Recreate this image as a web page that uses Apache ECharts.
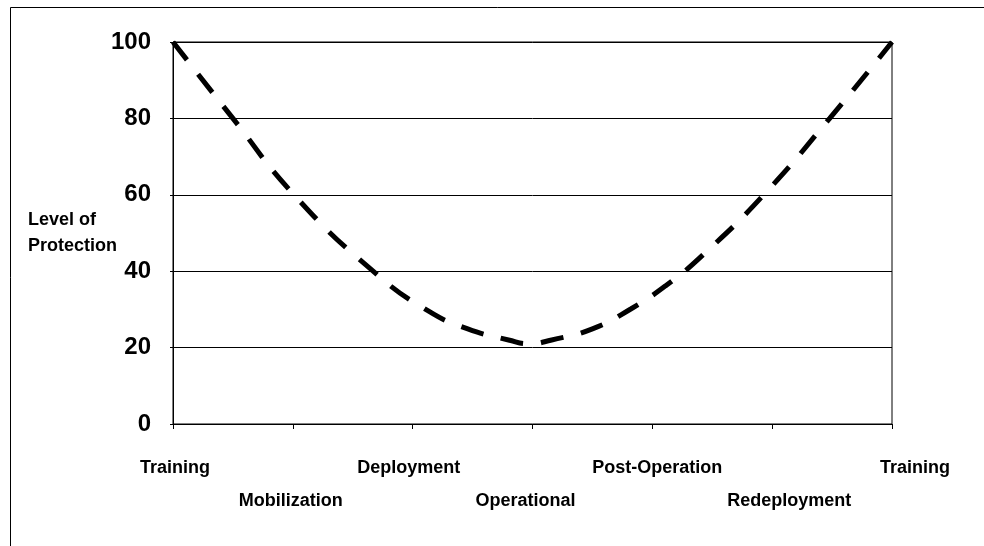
<!DOCTYPE html>
<html>
<head>
<meta charset="utf-8">
<script src="https://cdn.jsdelivr.net/npm/echarts@6/dist/echarts.min.js"></script>
<style>html,body{margin:0;padding:0;background:#fff;}#c{width:984px;height:546px;}</style>
</head>
<body>
<div id="c"></div>
<script>
const categories = ['Training','Mobilization','Deployment','Operational','Post-Operation','Redeployment','Training'];
const labelShift = [2, -2, -4, -7, 5, 17, 23];
const curveX = [0, 0.5, 1.01, 1.67, 2.13, 2.46, 2.80, 2.97, 3.16, 3.50, 3.82, 4.12, 4.42, 4.93, 5.48, 6];
const curveY = [100, 80, 60, 40, 29.6, 24.9, 22, 21, 22, 24.9, 30.1, 36.4, 44.2, 60, 80, 100];
const yName = 'Level of\nProtection';

const font = "'Liberation Sans', Arial, sans-serif";
const rich = {};
categories.forEach((c, i) => {
  const s = labelShift[i];
  const top = (i % 2 === 1) ? 33 : 0;
  rich['l' + i] = {
    fontFamily: font, fontWeight: 'bold', fontSize: 18, color: '#000',
    padding: [top, s < 0 ? -2 * s : 0, 0, s > 0 ? 2 * s : 0]
  };
});

const chart = echarts.init(document.getElementById('c'));
chart.setOption({
  animation: false,
  backgroundColor: '#fff',
  graphic: [{
    type: 'rect', shape: { x: 10.5, y: 7.5, width: 1100, height: 700 },
    style: { fill: 'none', stroke: '#000', lineWidth: 1 }, silent: true
  }],
  grid: { left: 173, right: 92, top: 42, bottom: 122, show: true, borderColor: '#000', borderWidth: 1, backgroundColor: 'transparent' },
  xAxis: {
    type: 'value', min: 0, max: 6, interval: 1,
    axisLine: { show: true, lineStyle: { color: '#000', width: 1 } },
    axisTick: { show: true, length: 5, lineStyle: { color: '#000' } },
    splitLine: { show: false },
    axisLabel: {
      margin: 35, showMinLabel: true, showMaxLabel: true,
      formatter: v => { const i = Math.round(v); return '{l' + i + '|' + categories[i] + '}'; },
      rich: rich
    }
  },
  yAxis: {
    type: 'value', min: 0, max: 100, interval: 20,
    name: yName, nameLocation: 'middle', nameRotate: 0, nameGap: 145, nameMoveOverlap: false,
    nameTextStyle: { fontFamily: font, fontWeight: 'bold', fontSize: 18, color: '#000', align: 'left', lineHeight: 26, padding: [6, 0, 0, 0] },
    axisLine: { show: true, lineStyle: { color: '#000', width: 1 } },
    axisTick: { show: true, length: 3, lineStyle: { color: '#000' } },
    splitLine: { show: true, lineStyle: { color: '#000', width: 1 } },
    axisLabel: { fontFamily: font, fontWeight: 'bold', fontSize: 24, color: '#000', margin: 22 }
  },
  series: [{
    type: 'line',
    data: curveX.map((x, i) => [x, curveY[i]]),
    smooth: 0.5,
    symbol: 'none',
    lineStyle: { color: '#000', width: 5, type: [23, 18], cap: 'butt' }
  }]
});
</script>
</body>
</html>
